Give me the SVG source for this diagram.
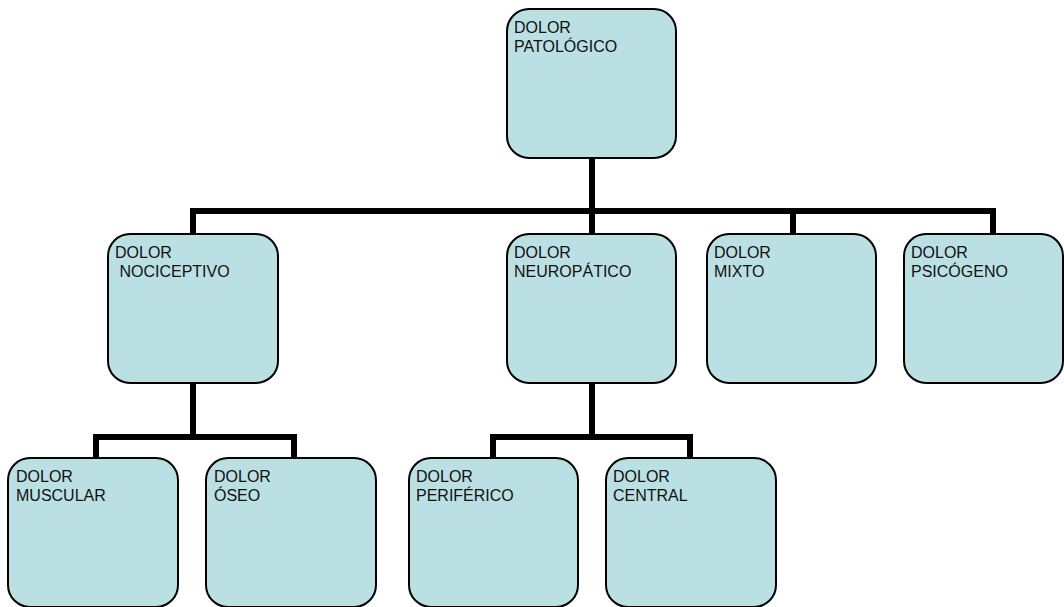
<svg xmlns="http://www.w3.org/2000/svg" width="1064" height="607" viewBox="0 0 1064 607">
<style>
.box{fill:#bbe0e3;stroke:#000;stroke-width:2}
.t{font-family:"Liberation Sans",Arial,sans-serif;font-size:16px;fill:#111;white-space:pre}
.c{fill:none;stroke:#000;stroke-width:6;stroke-linecap:square;stroke-linejoin:miter}
</style>
<rect width="1064" height="607" fill="#fff"/>
<g id="connectors">
<path class="c" d="M592 158V211M193 234V211H993V234M592 211V234M793 211V234"/>
<path class="c" d="M193 383V437M96 458V437H294V458"/>
<path class="c" d="M592 383V437M493 458V437H690V458"/>
</g>
<g id="patologico"><rect class="box" x="507" y="9" width="169" height="149" rx="22"/><text class="t" x="514" y="33">DOLOR</text><text class="t" x="514" y="52">PATOLÓGICO</text></g>
<g id="nociceptivo"><rect class="box" x="108" y="234" width="170" height="149" rx="22"/><text class="t" x="115" y="258">DOLOR</text><text class="t" x="115" y="277"> NOCICEPTIVO</text></g>
<g id="neuropatico"><rect class="box" x="507" y="234" width="169" height="149" rx="22"/><text class="t" x="514" y="258">DOLOR</text><text class="t" x="514" y="277">NEUROPÁTICO</text></g>
<g id="mixto"><rect class="box" x="707" y="234" width="169" height="149" rx="22"/><text class="t" x="714" y="258">DOLOR</text><text class="t" x="714" y="277">MIXTO</text></g>
<g id="psicogeno"><rect class="box" x="904" y="234" width="159" height="149" rx="22"/><text class="t" x="911" y="258">DOLOR</text><text class="t" x="911" y="277">PSICÓGENO</text></g>
<g id="muscular"><rect class="box" x="8" y="458" width="170" height="149" rx="22"/><text class="t" x="16" y="482">DOLOR</text><text class="t" x="16" y="501">MUSCULAR</text></g>
<g id="oseo"><rect class="box" x="206" y="458" width="170" height="149" rx="22"/><text class="t" x="214" y="482">DOLOR</text><text class="t" x="214" y="501">ÓSEO</text></g>
<g id="periferico"><rect class="box" x="409" y="458" width="169" height="149" rx="22"/><text class="t" x="416" y="482">DOLOR</text><text class="t" x="416" y="501">PERIFÉRICO</text></g>
<g id="central"><rect class="box" x="606" y="458" width="170" height="149" rx="22"/><text class="t" x="613" y="482">DOLOR</text><text class="t" x="613" y="501">CENTRAL</text></g>
</svg>
